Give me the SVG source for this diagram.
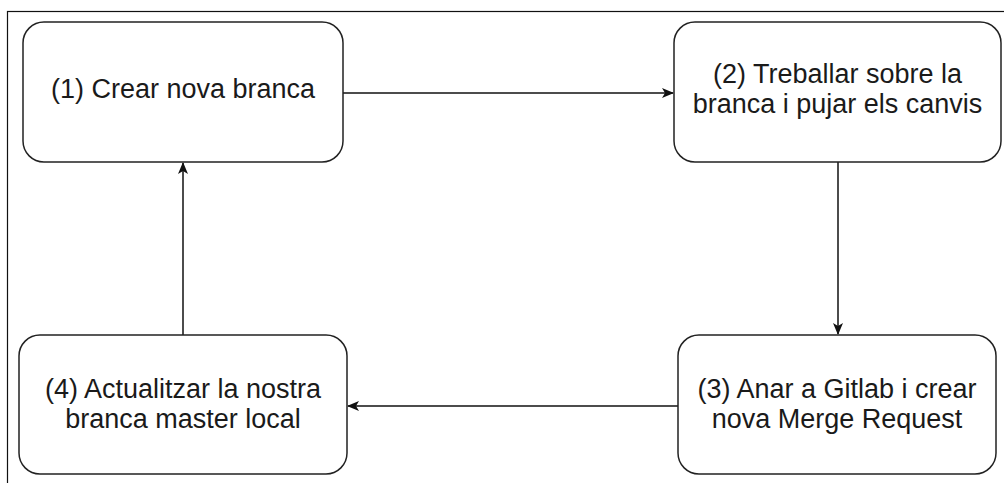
<svg xmlns="http://www.w3.org/2000/svg" width="1004" height="483" viewBox="0 0 1004 483">
<style>
.box{fill:#fff;stroke:#222;stroke-width:1.5}
.lbl{font-family:"Liberation Sans",Arial,sans-serif;font-size:27px;fill:#1a1a1a;text-anchor:middle}
.edge{stroke:#111;stroke-width:1.5;fill:none;marker-end:url(#arr)}
</style>
<defs>
<marker id="arr" markerWidth="12" markerHeight="10" refX="11" refY="5" orient="auto" markerUnits="userSpaceOnUse">
<path d="M0,0 L12,5 L0,10 L3,5 Z" fill="#111"/>
</marker>
</defs>
<rect x="7.5" y="11.5" width="1100" height="600" fill="#fff" stroke="#111" stroke-width="1.2"/>
<g id="connectors">
<path class="edge" d="M343,93 L673,93"/>
<path class="edge" d="M838,162 L838,334"/>
<path class="edge" d="M678,406 L348,406"/>
<path class="edge" d="M183,335 L183,163"/>
</g>
<g id="n1">
<rect class="box" x="23" y="22" width="320" height="140" rx="21"/>
<text class="lbl" x="183" y="98">(1) Crear nova branca</text>
</g>
<g id="n2">
<rect class="box" x="674" y="22" width="327" height="140" rx="21"/>
<text class="lbl" x="837.5" y="83">(2) Treballar sobre la</text>
<text class="lbl" x="837.5" y="113">branca i pujar els canvis</text>
</g>
<g id="n3">
<rect class="box" x="678" y="335" width="318" height="139" rx="21"/>
<text class="lbl" x="837" y="398">(3) Anar a Gitlab i crear</text>
<text class="lbl" x="837" y="428">nova Merge Request</text>
</g>
<g id="n4">
<rect class="box" x="19" y="335" width="328" height="139" rx="21"/>
<text class="lbl" x="183" y="398">(4) Actualitzar la nostra</text>
<text class="lbl" x="183" y="428">branca master local</text>
</g>
</svg>
